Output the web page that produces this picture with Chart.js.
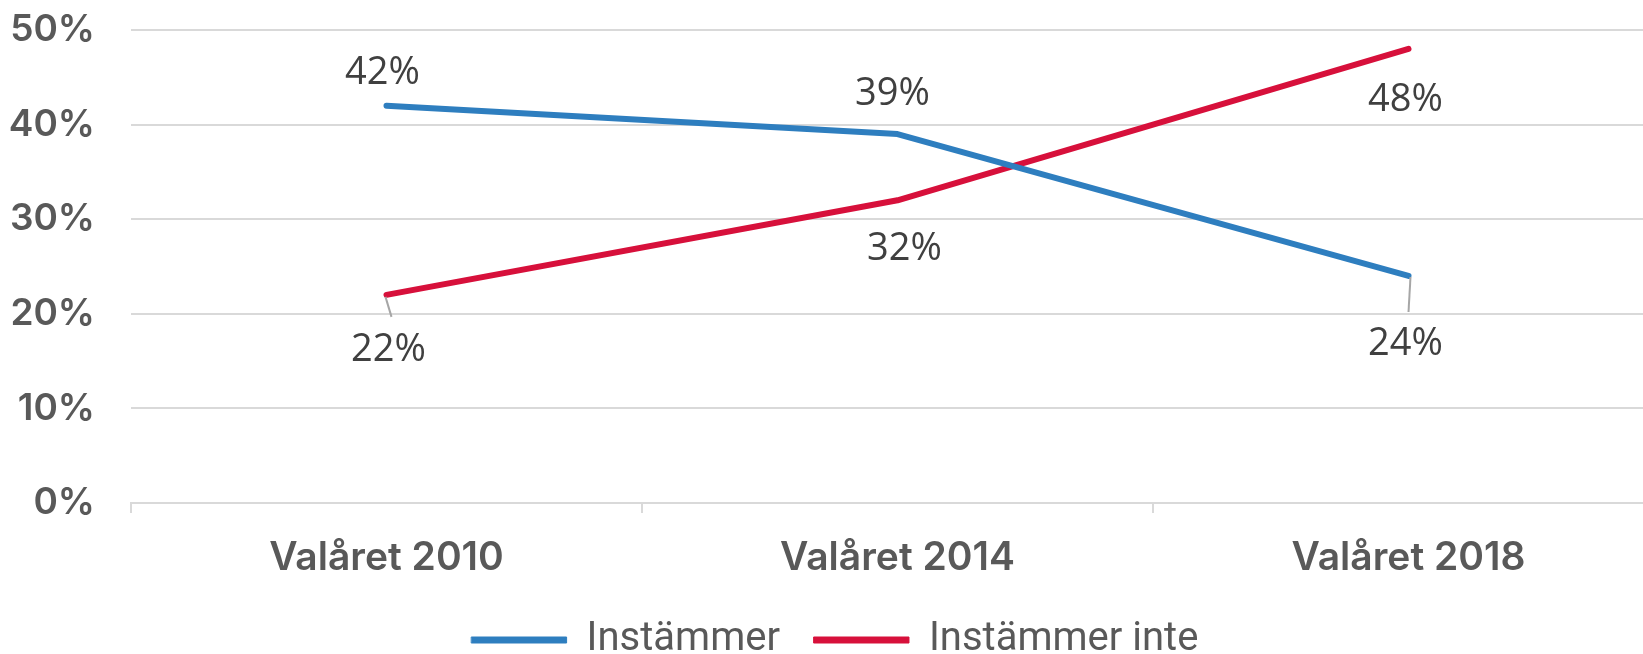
<!DOCTYPE html>
<html>
<head>
<meta charset="utf-8">
<script src="https://cdn.jsdelivr.net/npm/chart.js@4/dist/chart.umd.min.js"></script>
<style>
html, body { margin: 0; padding: 0; background: #fff; overflow: hidden; }
#wrap { width: 1643px; height: 654px; overflow: hidden; }
</style>
</head>
<body>
<div id="wrap"><canvas id="chart" width="1664" height="654"></canvas></div>
<script>
const years = ['Valåret 2010', 'Valåret 2014', 'Valåret 2018'],
	agree = [42, 39, 24],
	disagree = [22, 32, 48],
	seriesNames = ['Instämmer', 'Instämmer inte'],
	yTicks = [0, 10, 20, 30, 40, 50]

// label placement around each point (px), and which ones get a leader line
const labelOffsets = [
	[[-4, -33], [-5, -40], [-3, 68]],
	[[2, 55], [7, 49], [-3, 51]],
]
const leaders = [
	[null, null, [[2, 1], [0, 36]]],
	[[[-1, 2], [5, 22]], null, null],
]

const valueLabels = {
	id: 'valueLabels',
	afterDatasetsDraw(chart) {
		const ctx = chart.ctx
		ctx.save()
		chart.data.datasets.forEach((ds, di) => {
			const meta = chart.getDatasetMeta(di)
			meta.data.forEach((pt, i) => {
				const lead = leaders[di][i]
				if (lead) {
					ctx.strokeStyle = '#a6a6a6'
					ctx.lineWidth = 2
					ctx.beginPath()
					ctx.moveTo(pt.x + lead[0][0], pt.y + lead[0][1])
					ctx.lineTo(pt.x + lead[1][0], pt.y + lead[1][1])
					ctx.stroke()
				}
				const [dx, dy] = labelOffsets[di][i]
				ctx.font = '38px "Open Sans"'
				ctx.fillStyle = '#404040'
				ctx.textAlign = 'center'
				ctx.textBaseline = 'middle'
				ctx.fillText(ds.data[i] + '%', pt.x + dx, pt.y + dy)
			})
		})
		ctx.restore()
	},
}

const d = document,
	$chart = d.getElementById('chart')

new Chart($chart, {
	type: 'line',
	data: {
		labels: years,
		datasets: [
			{ label: seriesNames[0], data: agree, borderColor: '#2e7ebf', backgroundColor: '#2e7ebf', borderWidth: 6 },
			{ label: seriesNames[1], data: disagree, borderColor: '#d7103b', backgroundColor: '#d7103b', borderWidth: 6 },
		],
	},
	options: {
		responsive: false,
		devicePixelRatio: 1,
		animation: false,
		layout: { padding: { top: 0, left: 6, right: 0, bottom: -16 } },
		elements: {
			point: { radius: 0, hoverRadius: 0 },
			line: { tension: 0, borderCapStyle: 'round', borderJoinStyle: 'round' },
		},
		scales: {
			x: {
				offset: true,
				afterFit(scale) { scale.height = 83 },
				grid: { offset: true, drawOnChartArea: false, drawTicks: true, tickLength: 10, color: '#d9d9d9', lineWidth: 2 },
				border: { display: true, color: '#d9d9d9', width: 2 },
				ticks: { color: '#595959', font: { family: 'Inter', size: 39, weight: '600' }, padding: 22 },
			},
			y: {
				min: 0,
				max: 50,
				afterFit(scale) {
					scale.width = 125
					scale.paddingTop = 30
					scale.paddingBottom = 0
				},
				afterBuildTicks(scale) { scale.ticks = yTicks.map((v) => ({ value: v })) },
				grid: { drawTicks: false, color: '#d9d9d9', lineWidth: 2 },
				border: { display: false },
				ticks: {
					color: '#595959',
					font: { family: 'Inter', size: 37, weight: '600' },
					padding: 36,
					callback: (v) => v + '%',
				},
			},
		},
		plugins: {
			legend: {
				position: 'bottom',
				labels: {
					color: '#595959',
					font: { family: 'Roboto', size: 40 },
					boxWidth: 95,
					boxHeight: 6,
					padding: 34,
					generateLabels(chart) {
						return Chart.defaults.plugins.legend.labels.generateLabels(chart).map((l) => ({ ...l, lineWidth: 1 }))
					},
				},
			},
			tooltip: { enabled: false },
		},
	},
	plugins: [valueLabels],
})
</script>
</body>
</html>
